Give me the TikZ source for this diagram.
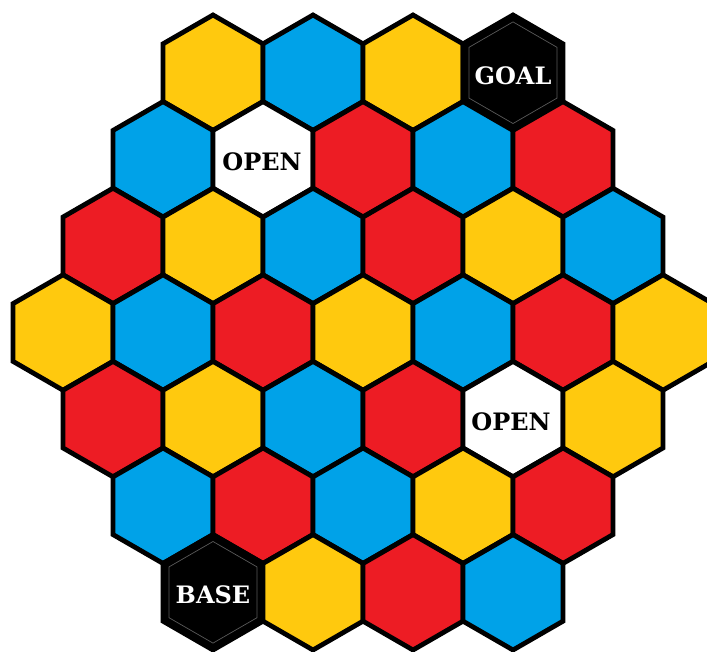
\documentclass[tikz,border=0pt]{standalone}
\usepackage{fontspec}
\usepackage{xcolor}
\usepackage{tikz}
\usetikzlibrary{calc}
\newfontfamily\tagfont{DejaVu Serif}
\definecolor{hyellow}{HTML}{FFC90E}
\definecolor{hblue}{HTML}{00A2E8}
\definecolor{hred}{HTML}{ED1C24}
\definecolor{hgray}{HTML}{5A5A5A}

\tikzset{
  hexcell/.style={draw=black, line width=4.8pt, line join=miter},
  cellY/.style={hexcell, fill=hyellow},
  cellB/.style={hexcell, fill=hblue},
  cellR/.style={hexcell, fill=hred},
  cellK/.style={hexcell, fill=black},
  cellW/.style={hexcell, fill=white},
  innerline/.style={draw=hgray, line width=0.7pt},
  celltag/.style={font=\tagfont\bfseries\fontsize{24}{24}\selectfont, inner sep=1pt}
}

\begin{document}
\begin{tikzpicture}[x=1pt, y=-1pt]

  %% Page frame (pixel grid, origin top left)
  \fill[white] (0,0) rectangle (707,651);
  \clip (0,0) rectangle (707,651);

  %% Hex board: one entry per row, colours left to right
  \foreach \r/\cells in {0/{Y,B,Y,K}, 1/{B,W,R,B,R}, 2/{R,Y,B,R,Y,B},
      3/{Y,B,R,Y,B,R,Y}, 4/{R,Y,B,R,W,Y}, 5/{B,R,B,Y,R}, 6/{K,Y,R,B}}{
    \pgfmathsetmacro{\cy}{72.7+86.6*\r}
    \pgfmathsetmacro{\xs}{63+50*abs(\r-3)}
    \foreach \c [count=\i from 0] in \cells {
      \draw[cell\c] ({\xs+100*\i},\cy) ++(0,-57.7) -- ++(50,28.85) -- ++(0,57.7)
        -- ++(-50,28.85) -- ++(-50,-28.85) -- ++(0,-57.7) -- cycle;
    }
  }

  %% Thin inner rim on the black cells
  \foreach \hx/\hy in {513/72.7, 213/592.3}{
    \draw[innerline] (\hx,\hy) ++(0,-50.8) -- ++(44,25.4) -- ++(0,50.8)
      -- ++(-44,25.4) -- ++(-44,-25.4) -- ++(0,-50.8) -- cycle;
  }

  %% Cell labels
  \node[celltag, text=white] (goal) at (513,76) {GOAL};
  \node[celltag] (openA) at (262,162) {OPEN};
  \node[celltag] (openB) at (511,422) {OPEN};
  \node[celltag, text=white] (base) at (213,595) {BASE};

\end{tikzpicture}
\end{document}
